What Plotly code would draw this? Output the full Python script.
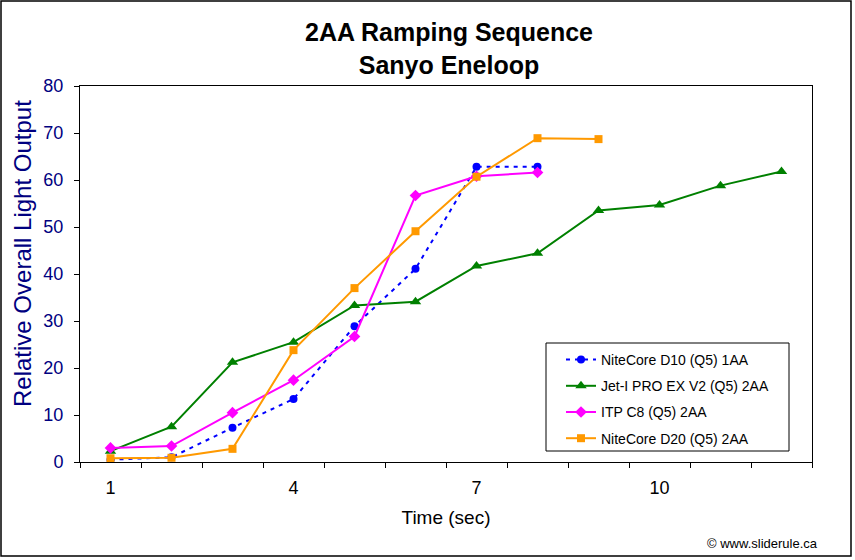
import plotly.graph_objects as go

time_sec = [1, 2, 3, 4, 5, 6, 7, 8, 9, 10, 11, 12]

d10_x = [1, 2, 3, 4, 5, 6, 7, 8]
d10_y = [0.5, 1.0, 7.3, 13.4, 28.9, 41.1, 62.8, 62.8]

jet_x = [1, 2, 3, 4, 5, 6, 7, 8, 9, 10, 11, 12]
jet_y = [2.3, 7.5, 21.2, 25.5, 33.3, 34.1, 41.7, 44.4, 53.5, 54.7, 58.8, 61.8]

itp_x = [1, 2, 3, 4, 5, 6, 7, 8]
itp_y = [3.0, 3.4, 10.5, 17.4, 26.7, 56.7, 60.8, 61.6]

d20_x = [1, 2, 3, 4, 5, 6, 7, 8, 9]
d20_y = [0.8, 0.9, 2.8, 23.8, 37.0, 49.1, 60.7, 68.9, 68.7]

x_tick_vals = [1, 4, 7, 10]
y_tick_vals = [0, 10, 20, 30, 40, 50, 60, 70, 80]

FONT = "Liberation Sans, Arial, sans-serif"

fig = go.Figure()
fig.add_trace(go.Scatter(x=d10_x, y=d10_y, mode="lines+markers", name="NiteCore D10 (Q5) 1AA",
                         legendgroup="a",
                         line=dict(color="#0000FF", width=2, dash="4px,5px"),
                         marker=dict(symbol="circle", size=8, color="#0000FF")))
fig.add_trace(go.Scatter(x=jet_x, y=jet_y, mode="lines+markers", name="Jet-I PRO EX V2 (Q5) 2AA",
                         legendgroup="b",
                         line=dict(color="#008000", width=2),
                         marker=dict(symbol="triangle-up", size=10, color="#008000")))
fig.add_trace(go.Scatter(x=itp_x, y=itp_y, mode="lines+markers", name="ITP C8 (Q5) 2AA",
                         legendgroup="c",
                         line=dict(color="#FF00FF", width=2),
                         marker=dict(symbol="diamond", size=9, color="#FF00FF")))
fig.add_trace(go.Scatter(x=d20_x, y=d20_y, mode="lines+markers", name="NiteCore D20 (Q5) 2AA",
                         legendgroup="d",
                         line=dict(color="#FF9900", width=2),
                         marker=dict(symbol="square", size=8, color="#FF9900")))

fig.update_layout(
    width=855, height=560,
    margin=dict(l=80, r=43, t=86, b=98),
    paper_bgcolor="white", plot_bgcolor="white",
    font=dict(family=FONT, color="black"),
    title=dict(text="<b>2AA Ramping Sequence<br>Sanyo Eneloop</b>",
               x=(449) / 855, xanchor="center", y=1 - 41 / 560, yanchor="middle",
               font=dict(size=25, color="black", family=FONT)),
    showlegend=True,
    legend=dict(x=(561 - 80) / 732, y=(462 - 344) / 376, xanchor="left", yanchor="top",
                bgcolor="rgba(0,0,0,0)", borderwidth=0,
                font=dict(size=14, color="black", family=FONT),
                traceorder="grouped", tracegroupgap=5, itemwidth=30),
    xaxis=dict(range=[0.5, 12.5], tickmode="array", tickvals=x_tick_vals,
               ticks="outside", ticklen=0, tickcolor="rgba(0,0,0,0)",
               ticklabelstandoff=9,
               showline=True, linecolor="black", linewidth=1, mirror=True,
               showgrid=False, zeroline=False,
               tickfont=dict(size=18, color="black", family=FONT),
               minor=dict(tick0=0.5, dtick=1, ticks="outside", ticklen=5, tickcolor="black", showgrid=False),
               title=dict(text="Time (sec)", font=dict(size=19, color="black", family=FONT), standoff=14)),
    yaxis=dict(range=[0, 80], tickmode="array", tickvals=y_tick_vals,
               ticks="outside", ticklen=5, tickcolor="black",
               ticklabelstandoff=7,
               showline=True, linecolor="black", linewidth=1, mirror=True,
               showgrid=False, zeroline=False,
               tickfont=dict(size=18, color="#000080", family=FONT)),
)

# y-axis title (positioned as in the original, slightly above the plot centre)
fig.add_annotation(text="Relative Overall Light Output", xref="paper", yref="paper",
                   x=(22 - 80) / 732, y=(462 - 254) / 376, xanchor="center", yanchor="middle",
                   textangle=-90, showarrow=False,
                   font=dict(size=24, color="#000080", family=FONT))

# legend box
fig.add_shape(type="rect", xref="paper", yref="paper",
              x0=(546 - 80) / 732, x1=(789 - 80) / 732,
              y0=(462 - 451) / 376, y1=(462 - 343) / 376,
              line=dict(color="black", width=1), fillcolor="white", layer="above")

# outer chart border
fig.add_shape(type="rect", xref="paper", yref="paper",
              x0=(1 - 80) / 732, x1=(851 - 80) / 732,
              y0=(462 - 556) / 376, y1=(462 - 1) / 376,
              line=dict(color="black", width=1.5), fillcolor="rgba(0,0,0,0)", layer="below")

fig.add_annotation(text="© www.sliderule.ca", xref="paper", yref="paper",
                   x=(820 - 80) / 732, y=(462 - 543) / 376, xanchor="right", yanchor="middle",
                   showarrow=False, font=dict(size=13, color="black", family=FONT))

fig.write_html("out.html")
